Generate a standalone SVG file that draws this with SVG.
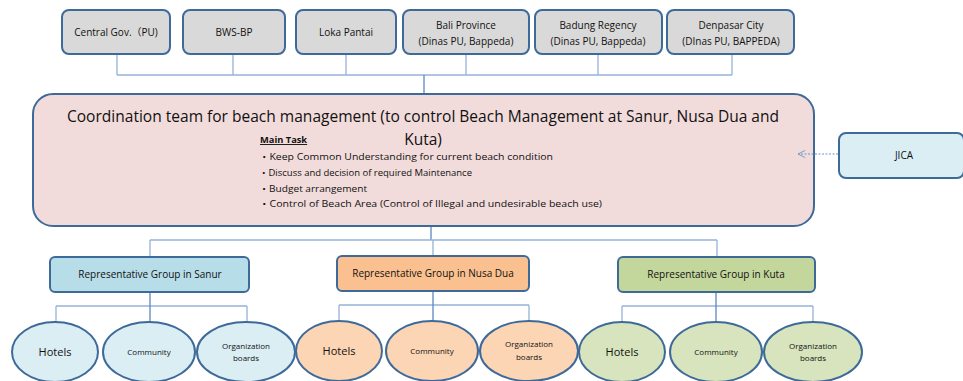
<svg xmlns="http://www.w3.org/2000/svg" width="963" height="381" viewBox="0 0 963 381">
  <defs>
    <style>
      text { font-family: "Open Sans", "Noto Sans", "Liberation Sans", "Noto Sans CJK JP", sans-serif; fill: #111; text-anchor: middle; }
      .org { fill: #d9d9d9; stroke: #3e6a9a; stroke-width: 2; }
      .main { fill: #f2dcdb; stroke: #3e6a9a; stroke-width: 2; }
      .jica { fill: #dbeef4; stroke: #3e6a9a; stroke-width: 2; }
      .g-sanur { fill: #b7dde8; stroke: #3e6a9a; stroke-width: 2; }
      .g-nusa { fill: #fac090; stroke: #3e6a9a; stroke-width: 2; }
      .g-kuta { fill: #c3d69b; stroke: #3e6a9a; stroke-width: 2; }
      .e-sanur { fill: #dbeef4; stroke: #3e6a9a; stroke-width: 2; }
      .e-nusa { fill: #fcd5b5; stroke: #3e6a9a; stroke-width: 2; }
      .e-kuta { fill: #d7e4bd; stroke: #3e6a9a; stroke-width: 2; }
      .lbl { font-size: 10px; }
      .hot { font-size: 11px; }
      .sm { font-size: 8px; }
      .task { font-size: 9.3px; text-anchor: start; }
      .link { fill: none; stroke: #95b3d7; stroke-width: 1.3; }
      .trunk { fill: none; stroke: #5b88c0; stroke-width: 1.3; }
    </style>
    <marker id="open-arrow" viewBox="0 0 10 10" refX="9" refY="5" markerWidth="9" markerHeight="9" orient="auto" markerUnits="userSpaceOnUse">
      <path d="M1,1 L9,5 L1,9" fill="none" stroke="#6f95c8" stroke-width="1"/>
    </marker>
  </defs>

  <!-- stakeholders -->
  <g id="central-gov">
    <rect class="org" x="62" y="10" width="108" height="44" rx="7"/>
    <text class="lbl" x="116" y="36">Central Gov.（PU)</text>
  </g>
  <g id="bws-bp">
    <rect class="org" x="183" y="10" width="102" height="44" rx="7"/>
    <text class="lbl" x="234" y="36">BWS-BP</text>
  </g>
  <g id="loka-pantai">
    <rect class="org" x="296" y="10" width="100" height="44" rx="7"/>
    <text class="lbl" x="346" y="36">Loka Pantai</text>
  </g>
  <g id="bali-province">
    <rect class="org" x="403" y="10" width="126" height="44" rx="7"/>
    <text class="lbl" x="466" y="29">Bali Province</text>
    <text class="lbl" x="466" y="45">(Dinas PU, Bappeda)</text>
  </g>
  <g id="badung-regency">
    <rect class="org" x="535" y="10" width="127" height="44" rx="7"/>
    <text class="lbl" x="598" y="29">Badung Regency</text>
    <text class="lbl" x="598" y="45">(Dinas PU, Bappeda)</text>
  </g>
  <g id="denpasar-city">
    <rect class="org" x="667" y="10" width="127" height="44" rx="7"/>
    <text class="lbl" x="731" y="29">Denpasar City</text>
    <text class="lbl" x="731" y="45">(DInas PU, BAPPEDA)</text>
  </g>

  <!-- coordination team -->
  <g id="coordination-team">
    <rect class="main" x="33" y="94" width="781" height="132" rx="20"/>
    <text x="423" y="122" font-size="15.5" textLength="712" lengthAdjust="spacingAndGlyphs">Coordination team for beach management (to control Beach Management at Sanur, Nusa Dua and</text>
    <text x="423" y="145" font-size="15.5">Kuta)</text>
    <text class="task" x="260" y="143" font-weight="bold" text-decoration="underline">Main Task</text>
    <text class="task" x="259" y="160" textLength="294" lengthAdjust="spacingAndGlyphs">・Keep Common Understanding  for current beach condition</text>
    <text class="task" x="259" y="176" textLength="213" lengthAdjust="spacingAndGlyphs">・Discuss and decision of required  Maintenance</text>
    <text class="task" x="259" y="192" textLength="108" lengthAdjust="spacingAndGlyphs">・Budget arrangement</text>
    <text class="task" x="259" y="207" textLength="343" lengthAdjust="spacingAndGlyphs">・Control of Beach Area (Control of Illegal and undesirable  beach use)</text>
  </g>

  <g id="jica">
    <rect class="jica" x="839" y="133" width="125" height="45" rx="7"/>
    <text class="lbl" x="904" y="159">JICA</text>
  </g>

  <!-- representative groups -->
  <g id="group-sanur">
    <rect class="g-sanur" x="50" y="257" width="199" height="35" rx="5"/>
    <text class="lbl" x="150" y="278">Representative  Group  in  Sanur</text>
  </g>
  <g id="group-nusa-dua">
    <rect class="g-nusa" x="337" y="256" width="192" height="35" rx="5"/>
    <text class="lbl" x="433" y="277">Representative  Group  in  Nusa  Dua</text>
  </g>
  <g id="group-kuta">
    <rect class="g-kuta" x="618" y="257" width="197" height="35" rx="5"/>
    <text class="lbl" x="716" y="278">Representative  Group  in  Kuta</text>
  </g>

  <!-- members: Sanur -->
  <g id="sanur-hotels">
    <ellipse class="e-sanur" cx="55" cy="352" rx="43" ry="30"/>
    <text class="hot" x="55" y="356">Hotels</text>
  </g>
  <g id="sanur-community">
    <ellipse class="e-sanur" cx="149" cy="352" rx="46" ry="30"/>
    <text class="sm" x="149" y="355">Community</text>
  </g>
  <g id="sanur-boards">
    <ellipse class="e-sanur" cx="246" cy="352" rx="49" ry="30"/>
    <text class="sm" x="246" y="349">Organization</text>
    <text class="sm" x="246" y="361">boards</text>
  </g>

  <!-- members: Nusa Dua -->
  <g id="nusa-hotels">
    <ellipse class="e-nusa" cx="339" cy="351" rx="43" ry="30"/>
    <text class="hot" x="339" y="355">Hotels</text>
  </g>
  <g id="nusa-community">
    <ellipse class="e-nusa" cx="432" cy="351" rx="46" ry="30"/>
    <text class="sm" x="432" y="354">Community</text>
  </g>
  <g id="nusa-boards">
    <ellipse class="e-nusa" cx="529" cy="351" rx="49" ry="30"/>
    <text class="sm" x="529" y="347">Organization</text>
    <text class="sm" x="529" y="360">boards</text>
  </g>

  <!-- members: Kuta -->
  <g id="kuta-hotels">
    <ellipse class="e-kuta" cx="622" cy="352" rx="43" ry="30"/>
    <text class="hot" x="622" y="356">Hotels</text>
  </g>
  <g id="kuta-community">
    <ellipse class="e-kuta" cx="716" cy="352" rx="46" ry="30"/>
    <text class="sm" x="716" y="355">Community</text>
  </g>
  <g id="kuta-boards">
    <ellipse class="e-kuta" cx="813" cy="352" rx="49" ry="30"/>
    <text class="sm" x="813" y="349">Organization</text>
    <text class="sm" x="813" y="361">boards</text>
  </g>

  <!-- connectors, drawn last so the JICA arrow sits on top of the team box -->
  <g id="connectors">
    <path class="link" d="M117,55 V75 M233,55 V75 M346,55 V75 M466,55 V75 M598,55 V75 M732,55 V75 M117,75 H732"/>
    <path class="trunk" d="M424,75 V93"/>
    <path class="trunk" d="M431,227 V240"/>
    <path class="link" d="M150,240 H717 M150,240 V256 M433,240 V255 M717,240 V256"/>
    <path class="link" d="M56,306 H247 M56,306 V321 M247,306 V321"/>
    <path class="trunk" d="M150,293 V321"/>
    <path class="link" d="M339,305 H529 M339,305 V320 M529,305 V320"/>
    <path class="trunk" d="M433,292 V320"/>
    <path class="link" d="M622,306 H813 M622,306 V321 M813,306 V321"/>
    <path class="trunk" d="M716,293 V321"/>
    <path d="M838,154 H798" fill="none" stroke="#6f95c8" stroke-width="1" stroke-dasharray="2,1.5" marker-end="url(#open-arrow)"/>
  </g>
</svg>
